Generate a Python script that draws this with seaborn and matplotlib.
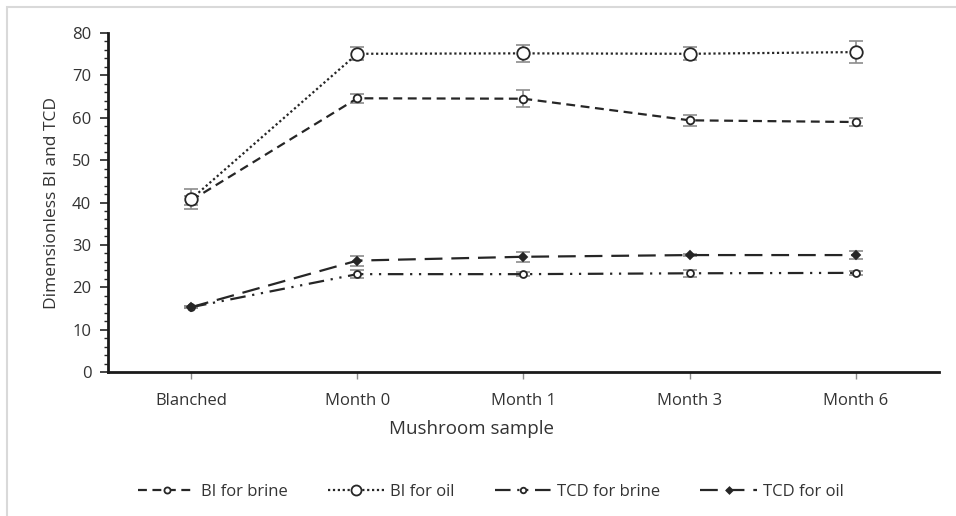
import numpy as np
import pandas as pd
import matplotlib
matplotlib.use('Agg')
import matplotlib.pyplot as plt
from matplotlib.patches import Rectangle
from matplotlib.ticker import MultipleLocator
import seaborn as sns

# Values
samples = ['Blanched', 'Month 0', 'Month 1', 'Month 3', 'Month 6']
series = ['BI for brine', 'BI for oil', 'TCD for brine', 'TCD for oil']

bi_brine = [40.5, 64.6, 64.5, 59.4, 59.0]
bi_brine_err = [1.0, 1.0, 2.0, 1.3, 1.0]
bi_oil = [40.8, 75.1, 75.2, 75.1, 75.5]
bi_oil_err = [2.4, 1.5, 2.0, 1.5, 2.5]
tcd_brine = [15.3, 23.1, 23.1, 23.3, 23.4]
tcd_brine_err = [0.3, 1.0, 0.4, 0.8, 0.5]
tcd_oil = [15.3, 26.3, 27.2, 27.6, 27.6]
tcd_oil_err = [0.3, 1.2, 1.2, 0.3, 1.0]

values = [bi_brine, bi_oil, tcd_brine, tcd_oil]
errors = [bi_brine_err, bi_oil_err, tcd_brine_err, tcd_oil_err]

df = pd.DataFrame({
    'sample': samples * len(series),
    'value': np.concatenate(values),
    'series': np.repeat(series, len(samples)),
})

sns.set_style('white')
plt.rcParams['font.family'] = ['Open Sans', 'DejaVu Sans']

line_col = '#262626'
text_col = '#333333'
dashes = {
    'BI for brine': (4, 2.5),
    'BI for oil': (1, 1.2),
    'TCD for brine': (7, 3, 1, 3, 1, 3),
    'TCD for oil': (8, 4),
}
markers = {'BI for brine': 'o', 'BI for oil': 'o', 'TCD for brine': 'o', 'TCD for oil': 'D'}
msizes = {'BI for brine': 5.5, 'BI for oil': 9, 'TCD for brine': 5, 'TCD for oil': 4}
mface = {'BI for brine': 'white', 'BI for oil': 'white', 'TCD for brine': 'white', 'TCD for oil': line_col}

fig = plt.figure(figsize=(9.56, 5.16), dpi=100)
ax = fig.add_axes([0.113, 0.279, 0.869, 0.657])

for name, vals, errs in zip(series, values, errors):
    sub = df[df['series'] == name]
    ax.errorbar(sub['sample'], sub['value'], yerr=errs, fmt='none',
                ecolor='#8c8c8c', elinewidth=1.2, capsize=5, capthick=1.2, zorder=2)
    sns.lineplot(data=sub, x='sample', y='value', ax=ax, color=line_col,
                 linewidth=1.6, dashes=dashes[name], marker=markers[name],
                 markersize=msizes[name], markerfacecolor=mface[name],
                 markeredgecolor=line_col, markeredgewidth=1.3,
                 label=name, zorder=3, sort=False, legend=False)

ax.set_ylim(0, 80)
ax.set_xlim(-0.5, len(samples) - 0.5)
ax.yaxis.set_major_locator(MultipleLocator(10))
ax.yaxis.set_minor_locator(MultipleLocator(2))
ax.tick_params(axis='y', which='major', direction='out', length=6, width=1.2,
               color='#262626', labelsize=12, labelcolor=text_col, left=True, pad=6)
ax.tick_params(axis='y', which='minor', direction='out', length=3, width=1,
               color='#262626', left=True)
ax.tick_params(axis='x', which='major', direction='out', length=5, width=1,
               color='#8c8c8c', labelsize=12, labelcolor=text_col, bottom=True, pad=10)
sns.despine(ax=ax)
for s in ['left', 'bottom']:
    ax.spines[s].set_color('#1a1a1a')
    ax.spines[s].set_linewidth(2)

ax.set_xlabel('Mushroom sample', fontsize=13.5, color=text_col)
ax.set_ylabel('Dimensionless BI and TCD', fontsize=12.5, color=text_col)
ax.xaxis.set_label_coords(0.437, -0.142)
ax.yaxis.set_label_coords(-0.058, 0.5)

handles, labels = ax.get_legend_handles_labels()
fig.legend(handles, labels, loc='center', bbox_to_anchor=(491 / 956, 1 - 492 / 516),
           ncol=4, frameon=False, fontsize=12, handlelength=3.4, columnspacing=2.4,
           handletextpad=0.35, labelcolor=text_col, markerscale=0.8)

fig.patches.append(Rectangle((7 / 956, -0.01), 1.02, 1 - 7 / 516 + 0.01,
                             transform=fig.transFigure, fill=False,
                             edgecolor='#d9d9d9', linewidth=1.5))

fig.savefig('out.png', dpi=100)
